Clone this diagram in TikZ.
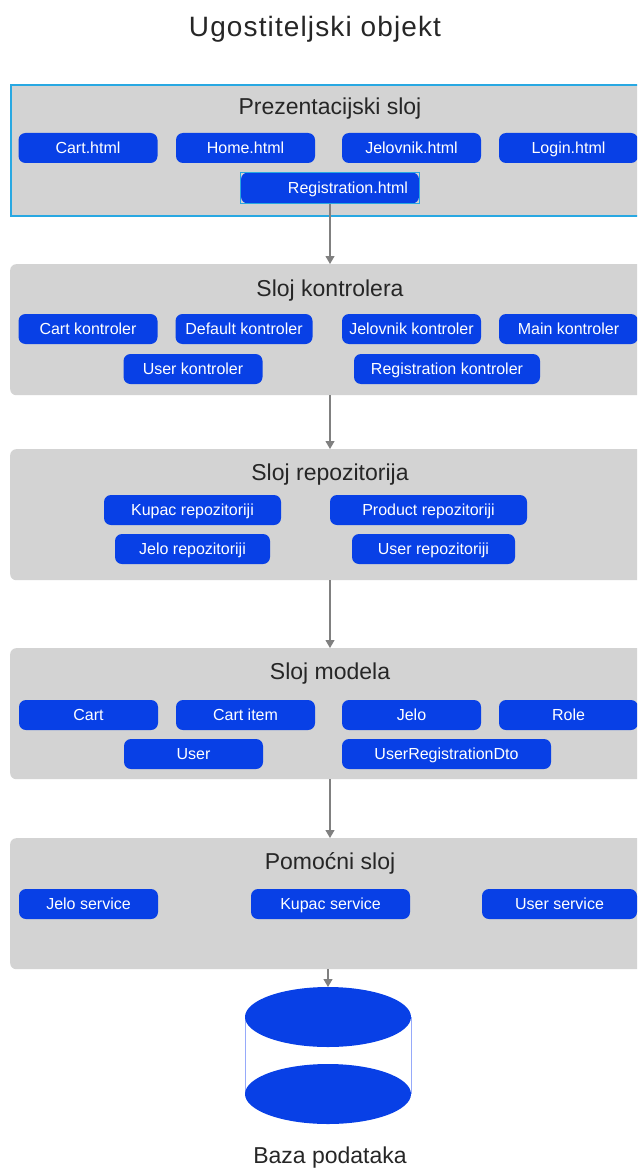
\documentclass[tikz,border=0pt]{standalone}
\usepackage{fontspec}
\setmainfont{Liberation Sans}
\usetikzlibrary{arrows.meta}
\definecolor{nblue}{RGB}{8,64,230}
\definecolor{lgray}{RGB}{211,211,211}
\definecolor{selblue}{RGB}{40,168,226}
\definecolor{dbline}{RGB}{150,170,250}
\begin{document}
\begin{tikzpicture}[x=1pt,y=-1pt,
  layer/.style={fill=lgray, rounded corners=6pt, minimum width=640pt, minimum height=131pt, anchor=north west, inner sep=0pt},
  nd/.style={fill=nblue, text=white, rounded corners=7pt, minimum height=30pt, inner sep=0pt, text height=11.5pt, text depth=1pt, font=\fontsize{16}{18}\selectfont},
  ttl/.style={font=\fontsize{23}{26}\selectfont, text=black!85},
  conn/.style={draw=gray, line width=1.1pt, -{Triangle[length=8pt,width=9pt]}}]
\useasboundingbox (0,0) rectangle (637,1169);
\clip (0,0) rectangle (637,1169);
\node[font=\fontsize{28}{32}\selectfont\addfontfeature{LetterSpace=4}, text=black!85] (title) at (315,29) {Ugostiteljski objekt};
\coordinate (ax) at (330,0);
% layer 1
\node[layer, rounded corners=0pt, draw=selblue, line width=2pt] (L1) at (10,84) {};
\node[ttl] (t1) at (330,109) {Prezentacijski sloj};
\node[nd, minimum width=139pt] (p1) at (88,148) {Cart.html};
\node[nd, minimum width=139pt] (p2) at (245.5,148) {Home.html};
\node[nd, minimum width=139pt] (p3) at (411.5,148) {Jelovnik.html};
\node[nd, minimum width=139pt] (p4) at (568.5,148) {Login.html};
\node[nd, minimum width=178pt, minimum height=31pt, text width=172pt, align=right] (reg) at (330,188) {Registration.html\hspace*{8pt}};
\draw[selblue, line width=0.8pt] (reg.south west) rectangle (reg.north east);
% layer 2
\node[layer] (L2) at (10,264) {};
\node[ttl] (t2) at (330,291) {Sloj kontrolera};
\node[nd, minimum width=139pt] (k1) at (88,329) {Cart kontroler};
\node[nd, minimum width=137pt] (k2) at (244,329) {Default kontroler};
\node[nd, minimum width=139pt] (k3) at (411.5,329) {Jelovnik kontroler};
\node[nd, minimum width=139pt] (k4) at (568.5,329) {Main kontroler};
\node[nd, minimum width=139pt] (k5) at (193,369) {User kontroler};
\node[nd, minimum width=186pt] (k6) at (447,369) {Registration kontroler};
% layer 3
\node[layer] (L3) at (10,449) {};
\node[ttl] (t3) at (330,475) {Sloj repozitorija};
\node[nd, minimum width=177pt] (r1) at (192.5,510) {Kupac repozitoriji};
\node[nd, minimum width=197pt] (r2) at (428.5,510) {Product repozitoriji};
\node[nd, minimum width=155pt] (r3) at (192.5,549) {Jelo repozitoriji};
\node[nd, minimum width=163pt] (r4) at (433.5,549) {User repozitoriji};
% layer 4
\node[layer] (L4) at (10,648) {};
\node[ttl] (t4) at (330,674) {Sloj modela};
\node[nd, minimum width=139pt] (m1) at (88.5,715) {Cart};
\node[nd, minimum width=139pt] (m2) at (245.5,715) {Cart item};
\node[nd, minimum width=139pt] (m3) at (411.5,715) {Jelo};
\node[nd, minimum width=139pt] (m4) at (568.5,715) {Role};
\node[nd, minimum width=139pt] (m5) at (193.5,754) {User};
\node[nd, minimum width=209pt] (m6) at (446.5,754) {UserRegistrationDto};
% layer 5
\node[layer] (L5) at (10,838) {};
\node[ttl] (t5) at (330,863) {Pomoćni sloj};
\node[nd, minimum width=139pt] (s1) at (88.5,904) {Jelo service};
\node[nd, minimum width=159pt] (s2) at (330.5,904) {Kupac service};
\node[nd, minimum width=155pt] (s3) at (559.5,904) {User service};
% database
\coordinate (dbtop) at (328,987);
\draw[dbline, line width=0.8pt] (245,1017) -- (245,1094) (411,1017) -- (411,1094);
\fill[nblue] (328,1017) ellipse [x radius=83pt, y radius=30pt];
\fill[nblue] (328,1094) ellipse [x radius=83pt, y radius=30pt];
\node[font=\fontsize{23}{26}\selectfont, text=black!85] (db) at (330,1158) {Baza podataka};
% connectors
\draw[conn] (reg.south) -- (reg.south |- L2.north);
\draw[conn] (ax |- L2.south) -- (ax |- L3.north);
\draw[conn] (ax |- L3.south) -- (ax |- L4.north);
\draw[conn] (ax |- L4.south) -- (ax |- L5.north);
\draw[conn] (dbtop |- L5.south) -- (dbtop);
\end{tikzpicture}
\end{document}
